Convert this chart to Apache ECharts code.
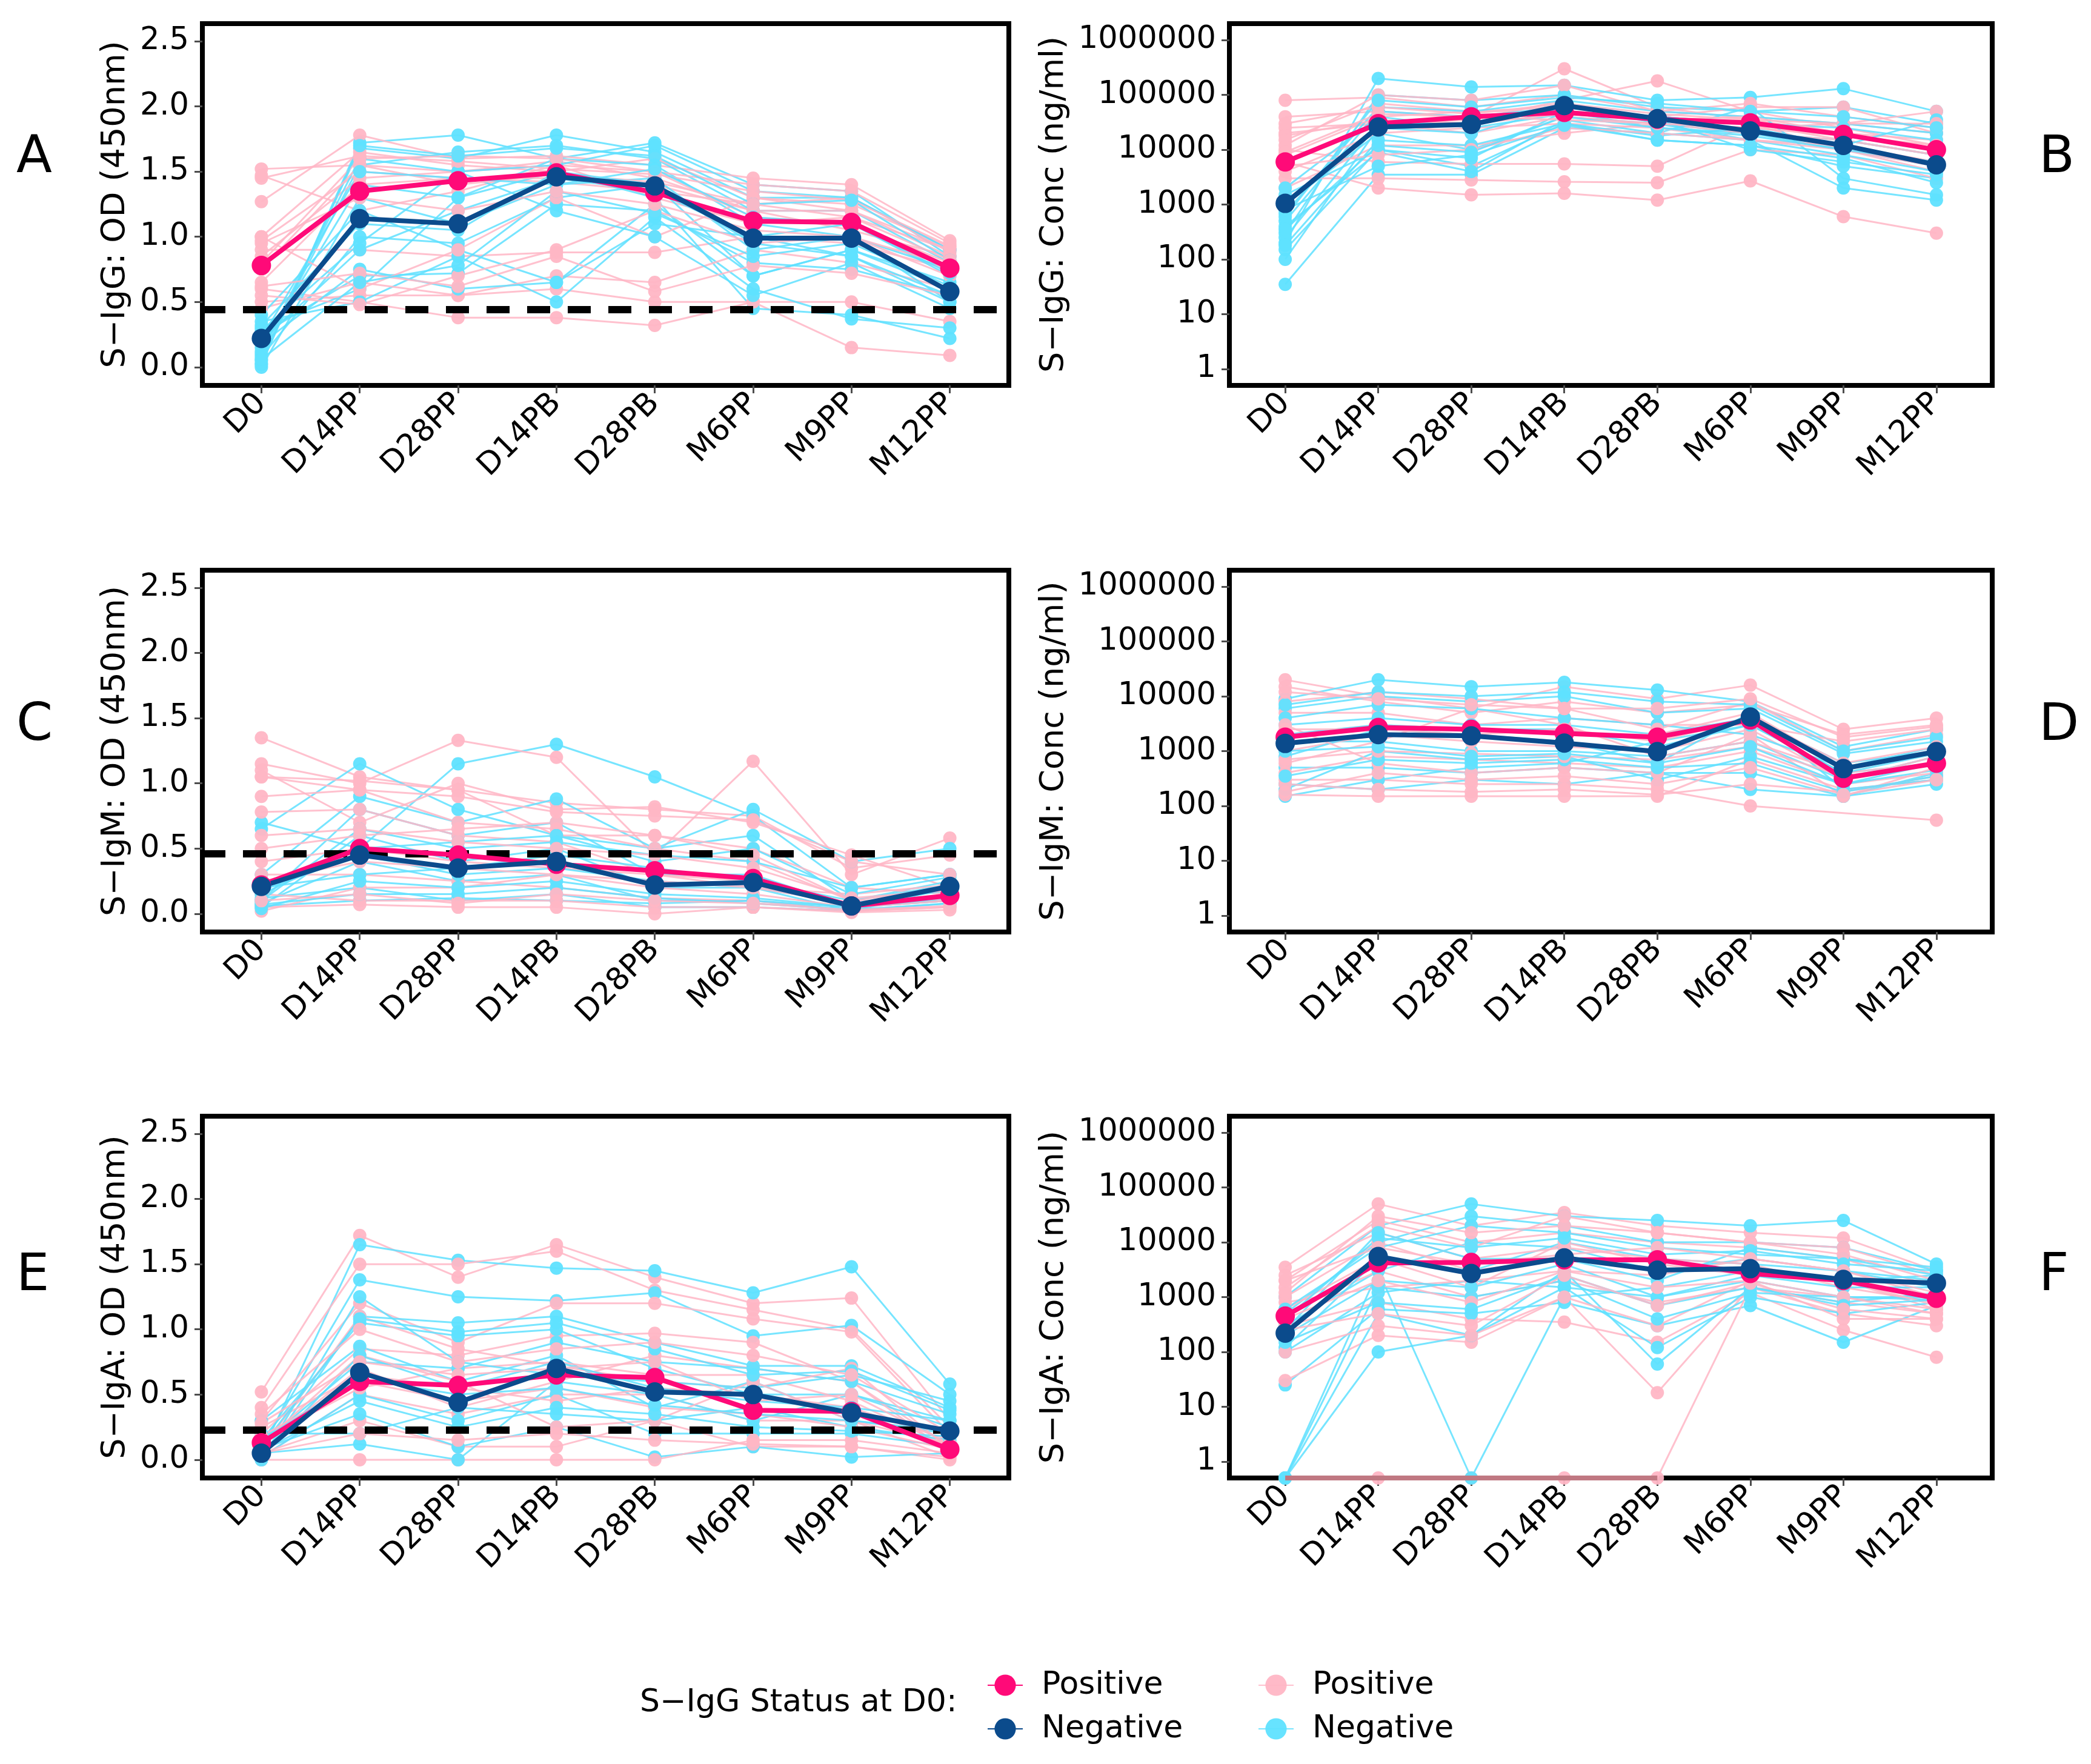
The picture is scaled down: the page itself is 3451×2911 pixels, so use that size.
<!DOCTYPE html>
<html><head><meta charset="utf-8">
<script src="https://cdn.jsdelivr.net/npm/echarts@6/dist/echarts.min.js"></script>
<style>html,body{margin:0;padding:0;background:#fff}#c{width:3451px;height:2911px}</style>
</head><body><div id="c"></div><script>
// ---------- data ----------
const categories = ['D0','D14PP','D28PP','D14PB','D28PB','M6PP','M9PP','M12PP'];
const odTicks = [0, 0.5, 1, 1.5, 2, 2.5];
const concTicks = [1, 10, 100, 1000, 10000, 100000, 1000000];

// Panel A: S-IgG OD
const A_meanPos = [0.78, 1.35, 1.43, 1.49, 1.34, 1.12, 1.11, 0.76];
const A_meanNeg = [0.22, 1.14, 1.10, 1.46, 1.39, 0.99, 0.99, 0.58];
const A_cutoff = 0.44;
const A_pos = [
  [1.52, 1.55, 1.50, 1.58, 1.45, 1.20, 1.05, 0.85],
  [1.47, 1.20, 1.35, 1.55, 1.30, 1.10, 1.15, 0.90],
  [1.27, 1.78, 1.60, 1.62, 1.55, 1.45, 1.40, 0.97],
  [1.00, 1.65, 1.55, 1.50, 1.60, 1.30, 1.25, 0.92],
  [0.97, 1.50, 1.45, 1.42, 1.35, 1.25, 1.30, 0.88],
  [0.90, 0.90, 0.85, 0.88, 0.88, 1.00, 0.95, 0.75],
  [0.85, 1.45, 1.50, 1.55, 1.50, 1.15, 1.10, 0.80],
  [0.60, 0.50, 0.38, 0.38, 0.32, 0.50, 0.15, 0.09],
  [0.50, 0.55, 0.55, 0.60, 0.50, 0.50, 0.50, 0.35],
  [0.45, 0.65, 0.55, 0.70, 0.65, 0.90, 0.80, 0.60],
  [0.80, 1.60, 1.62, 1.60, 1.50, 1.40, 1.35, 0.95],
  [0.65, 1.40, 1.45, 1.45, 1.40, 1.20, 1.20, 0.85],
  [1.00, 0.60, 0.90, 1.30, 1.00, 1.30, 1.20, 0.90],
  [0.55, 0.48, 0.70, 0.90, 1.20, 0.95, 1.00, 0.70],
  [1.45, 1.62, 1.58, 1.52, 1.48, 1.35, 1.28, 0.93],
  [0.75, 1.55, 1.40, 1.48, 1.42, 1.25, 1.15, 0.82],
  [0.62, 0.72, 0.62, 0.85, 0.58, 0.78, 0.72, 0.55],
  [0.95, 1.30, 1.20, 1.35, 1.25, 1.05, 1.00, 0.78]
];
const A_neg = [
  [0.02, 1.72, 1.78, 1.60, 1.72, 1.40, 1.35, 0.85],
  [0.05, 1.68, 1.60, 1.78, 1.65, 1.30, 1.30, 0.90],
  [0.10, 1.55, 1.65, 1.70, 1.60, 1.20, 1.20, 0.80],
  [0.15, 1.40, 1.30, 1.60, 1.55, 1.10, 1.00, 0.75],
  [0.08, 1.00, 0.95, 1.30, 1.40, 0.70, 0.90, 0.60],
  [0.20, 0.90, 1.20, 1.45, 1.35, 1.00, 0.85, 0.50],
  [0.25, 0.70, 0.72, 1.25, 1.20, 0.80, 0.75, 0.55],
  [0.30, 0.60, 1.30, 1.50, 1.30, 0.45, 0.40, 0.22],
  [0.35, 0.50, 0.85, 0.50, 1.15, 0.60, 0.37, 0.30],
  [0.12, 1.60, 1.50, 1.55, 1.70, 1.35, 1.30, 0.90],
  [0.40, 1.20, 0.90, 0.65, 1.10, 1.00, 1.10, 0.70],
  [0.18, 0.75, 0.60, 0.65, 1.25, 0.70, 0.90, 0.65],
  [0.00, 1.30, 1.10, 1.40, 1.45, 0.90, 1.00, 0.50],
  [0.28, 0.95, 1.50, 1.20, 1.00, 0.55, 0.80, 0.45],
  [0.03, 1.70, 1.62, 1.68, 1.62, 1.25, 1.28, 0.82],
  [0.22, 1.50, 1.45, 1.40, 1.52, 1.15, 1.10, 0.72],
  [0.06, 0.65, 0.78, 1.35, 1.18, 0.85, 0.95, 0.62],
  [0.32, 1.10, 1.05, 1.50, 1.40, 0.95, 0.85, 0.55]
];

// Panel B: S-IgG Conc
const B_meanPos = [6000, 30000, 40000, 48000, 36000, 31000, 19000, 10000];
const B_meanNeg = [1050, 26000, 29000, 64000, 37000, 22000, 12000, 5300];
const B_pos = [
  [80000, 90000, 60000, 100000, 50000, 40000, 30000, 20000],
  [40000, 50000, 40000, 300000, 60000, 35000, 20000, 15000],
  [20000, 30000, 35000, 80000, 180000, 50000, 25000, 12000],
  [15000, 70000, 50000, 50000, 40000, 30000, 15000, 8000],
  [10000, 6000, 5500, 5500, 5000, 30000, 10000, 4000],
  [6000, 2000, 1500, 1600, 1200, 2700, 600, 300],
  [3000, 3000, 2800, 2600, 2500, 10000, 8000, 3000],
  [2000, 12000, 12000, 20000, 30000, 20000, 15000, 8000],
  [25000, 30000, 20000, 40000, 30000, 25000, 30000, 50000],
  [8000, 40000, 50000, 60000, 40000, 60000, 60000, 20000],
  [4000, 20000, 25000, 30000, 25000, 15000, 12000, 6000],
  [12000, 100000, 80000, 150000, 50000, 70000, 40000, 25000],
  [30000, 60000, 45000, 70000, 45000, 35000, 30000, 30000],
  [18000, 35000, 30000, 45000, 35000, 40000, 20000, 10000],
  [5000, 8000, 10000, 25000, 20000, 15000, 10000, 5000],
  [9000, 45000, 40000, 35000, 30000, 25000, 18000, 12000]
];
const B_neg = [
  [35, 3500, 3500, 25000, 20000, 15000, 2000, 1200],
  [150, 10000, 5000, 30000, 15000, 12000, 5000, 3000],
  [200, 200000, 140000, 150000, 80000, 90000, 130000, 50000],
  [300, 100000, 80000, 100000, 60000, 50000, 60000, 30000],
  [500, 50000, 40000, 60000, 40000, 30000, 20000, 10000],
  [1000, 20000, 10000, 40000, 30000, 20000, 10000, 5000],
  [1500, 10000, 7000, 50000, 25000, 20000, 15000, 8000],
  [250, 30000, 30000, 70000, 30000, 15000, 8000, 4000],
  [400, 9000, 4000, 35000, 20000, 60000, 3000, 1500],
  [700, 60000, 50000, 80000, 50000, 40000, 30000, 20000],
  [180, 15000, 12000, 30000, 18000, 25000, 12000, 35000],
  [2000, 40000, 25000, 45000, 35000, 10000, 6000, 3500],
  [100, 25000, 20000, 60000, 40000, 30000, 25000, 15000],
  [600, 80000, 60000, 90000, 70000, 50000, 40000, 25000],
  [350, 12000, 9000, 40000, 25000, 18000, 10000, 6000],
  [800, 5000, 8000, 28000, 15000, 12000, 7000, 2500]
];

// Panel C: S-IgM OD
const C_meanPos = [0.22, 0.50, 0.45, 0.38, 0.33, 0.27, 0.06, 0.14];
const C_meanNeg = [0.21, 0.45, 0.35, 0.40, 0.22, 0.24, 0.06, 0.21];
const C_cutoff = 0.46;
const C_pos = [
  [1.35, 1.05, 0.95, 0.85, 0.80, 0.75, 0.35, 0.45],
  [1.15, 1.00, 1.33, 1.20, 0.45, 1.17, 0.30, 0.58],
  [1.10, 0.70, 1.00, 0.80, 0.82, 0.70, 0.45, 0.20],
  [1.05, 1.02, 0.95, 0.60, 0.60, 0.50, 0.20, 0.15],
  [0.90, 0.95, 0.70, 0.65, 0.50, 0.40, 0.10, 0.10],
  [0.78, 0.80, 0.60, 0.55, 0.30, 0.20, 0.15, 0.22],
  [0.40, 0.50, 0.40, 0.35, 0.30, 0.25, 0.05, 0.10],
  [0.30, 0.30, 0.25, 0.20, 0.12, 0.10, 0.02, 0.05],
  [0.15, 0.10, 0.10, 0.10, 0.05, 0.05, 0.02, 0.05],
  [0.05, 0.07, 0.05, 0.05, 0.00, 0.05, 0.01, 0.03],
  [0.02, 0.20, 0.20, 0.30, 0.20, 0.15, 0.05, 0.10],
  [0.50, 0.60, 0.65, 0.70, 0.60, 0.45, 0.10, 0.20],
  [1.05, 0.95, 0.90, 0.78, 0.75, 0.72, 0.40, 0.30],
  [0.60, 0.65, 0.55, 0.50, 0.45, 0.35, 0.12, 0.18],
  [0.25, 0.40, 0.35, 0.30, 0.25, 0.20, 0.08, 0.12],
  [0.10, 0.15, 0.08, 0.15, 0.10, 0.08, 0.03, 0.06]
];
const C_neg = [
  [0.70, 0.50, 1.15, 1.30, 1.05, 0.75, 0.20, 0.30],
  [0.65, 1.15, 0.80, 0.60, 0.50, 0.80, 0.40, 0.50],
  [0.30, 0.90, 0.70, 0.88, 0.50, 0.60, 0.10, 0.25],
  [0.10, 0.80, 0.60, 0.70, 0.30, 0.30, 0.05, 0.10],
  [0.05, 0.60, 0.40, 0.50, 0.20, 0.20, 0.02, 0.20],
  [0.08, 0.40, 0.25, 0.30, 0.10, 0.10, 0.03, 0.15],
  [0.12, 0.20, 0.10, 0.15, 0.05, 0.05, 0.02, 0.08],
  [0.06, 0.10, 0.12, 0.10, 0.08, 0.10, 0.05, 0.10],
  [0.20, 0.30, 0.35, 0.45, 0.35, 0.25, 0.10, 0.22],
  [0.15, 0.50, 0.55, 0.60, 0.40, 0.50, 0.15, 0.28],
  [0.10, 0.65, 0.50, 0.55, 0.45, 0.40, 0.20, 0.30],
  [0.04, 0.25, 0.20, 0.25, 0.15, 0.12, 0.05, 0.12],
  [0.18, 0.45, 0.30, 0.35, 0.25, 0.20, 0.08, 0.18],
  [0.07, 0.15, 0.15, 0.20, 0.12, 0.08, 0.03, 0.08]
];

// Panel D: S-IgM Conc
const D_meanPos = [1800, 2700, 2500, 2100, 1800, 3700, 320, 600];
const D_meanNeg = [1380, 2000, 1900, 1400, 980, 4200, 480, 980];
const D_pos = [
  [20000, 10000, 6000, 15000, 9000, 16000, 2500, 4000],
  [15000, 8000, 5000, 8000, 5000, 7000, 2000, 3000],
  [5000, 5000, 3000, 4000, 3000, 3000, 1500, 2500],
  [2000, 3000, 2500, 2000, 2000, 5000, 500, 1000],
  [1000, 2000, 1500, 1200, 1000, 2500, 300, 800],
  [400, 800, 700, 600, 500, 1000, 250, 400],
  [300, 300, 250, 250, 200, 100, null, 55],
  [160, 150, 150, 150, 150, 700, 200, 300],
  [600, 1500, 6000, 3000, 800, 1500, 400, 600],
  [8000, 12000, 9000, 6000, 2500, 8000, 1000, 2000],
  [3000, 600, 400, 500, 400, 2000, 150, 500],
  [250, 200, 180, 200, 160, 250, 180, 350],
  [12000, 9000, 7000, 6000, 6000, 9000, 1800, 2800],
  [700, 1000, 900, 800, 700, 1200, 350, 600],
  [2500, 2500, 2000, 2500, 1500, 4000, 600, 1200],
  [180, 400, 300, 350, 250, 500, 160, 300]
];
const D_neg = [
  [9000, 20000, 15000, 18000, 13000, 8000, 1200, 2500],
  [6000, 10000, 8000, 10000, 5000, 6000, 900, 1500],
  [3000, 4000, 3000, 3000, 2000, 4000, 600, 1000],
  [1500, 1500, 1000, 1000, 800, 1500, 300, 800],
  [500, 500, 400, 500, 400, 400, 150, 400],
  [250, 200, 300, 250, 400, 200, 150, 250],
  [150, 300, 500, 600, 1500, 3000, 400, 600],
  [800, 2500, 2000, 1500, 600, 5000, 200, 300],
  [4000, 7000, 6000, 4000, 3000, 2000, 500, 1200],
  [200, 1000, 700, 800, 300, 800, 250, 450],
  [7000, 12000, 10000, 12000, 8000, 7000, 1000, 1800],
  [350, 700, 600, 700, 500, 600, 180, 350],
  [2000, 3000, 2500, 2500, 1200, 3000, 400, 900],
  [1000, 1200, 800, 900, 600, 1200, 250, 600]
];

// Panel E: S-IgA OD
const E_meanPos = [0.13, 0.60, 0.57, 0.65, 0.63, 0.38, 0.37, 0.08];
const E_meanNeg = [0.05, 0.67, 0.44, 0.70, 0.52, 0.50, 0.36, 0.22];
const E_cutoff = 0.23;
const E_pos = [
  [0.52, 1.72, 1.40, 1.65, 1.40, 1.20, 1.24, 0.30],
  [0.40, 1.50, 1.50, 1.60, 1.30, 1.15, 1.00, 0.25],
  [0.30, 1.20, 0.90, 1.20, 1.20, 1.08, 0.98, 0.20],
  [0.20, 0.85, 0.80, 0.95, 0.97, 0.90, 0.60, 0.10],
  [0.10, 0.70, 0.40, 0.60, 0.80, 0.70, 0.60, 0.05],
  [0.02, 0.50, 0.35, 0.50, 0.50, 0.30, 0.30, 0.02],
  [0.05, 0.30, 0.10, 0.10, 0.30, 0.10, 0.10, 0.00],
  [0.00, 0.00, 0.00, 0.00, 0.00, 0.15, 0.15, 0.05],
  [0.15, 0.55, 0.70, 0.75, 0.65, 0.65, 0.45, 0.10],
  [0.25, 0.65, 0.55, 0.45, 0.55, 0.50, 0.40, 0.15],
  [0.08, 1.10, 0.85, 0.72, 0.60, 0.55, 0.70, 0.08],
  [0.12, 0.80, 0.60, 0.25, 0.30, 0.60, 0.30, 0.12],
  [0.35, 1.00, 0.75, 0.85, 0.90, 0.80, 0.65, 0.20],
  [0.18, 0.60, 0.45, 0.55, 0.40, 0.35, 0.25, 0.08],
  [0.05, 0.20, 0.15, 0.20, 0.15, 0.12, 0.10, 0.02],
  [0.28, 0.75, 0.65, 0.70, 0.75, 0.45, 0.50, 0.12]
];
const E_neg = [
  [0.05, 1.65, 1.53, 1.47, 1.45, 1.28, 1.48, 0.58],
  [0.10, 1.38, 1.25, 1.22, 1.28, 0.95, 1.03, 0.50],
  [0.00, 1.10, 1.05, 1.10, 0.90, 0.72, 0.72, 0.40],
  [0.15, 1.05, 0.95, 1.00, 0.70, 0.50, 0.50, 0.25],
  [0.30, 0.87, 0.60, 0.80, 0.40, 0.60, 0.30, 0.20],
  [0.02, 0.50, 0.30, 0.50, 0.20, 0.20, 0.20, 0.10],
  [0.08, 0.35, 0.10, 0.25, 0.02, 0.10, 0.02, 0.05],
  [0.05, 0.12, 0.00, 0.60, 0.50, 0.30, 0.50, 0.30],
  [0.12, 0.75, 0.70, 0.90, 0.75, 0.70, 0.60, 0.35],
  [0.20, 0.20, 0.40, 0.35, 0.30, 0.40, 0.25, 0.15],
  [0.00, 1.25, 0.75, 0.65, 0.60, 0.55, 0.65, 0.45],
  [0.10, 1.08, 0.98, 1.05, 0.85, 0.65, 0.68, 0.38],
  [0.03, 0.80, 0.55, 0.75, 0.55, 0.45, 0.40, 0.30],
  [0.07, 0.45, 0.25, 0.40, 0.35, 0.25, 0.22, 0.18],
  [0.15, 0.62, 0.50, 0.55, 0.42, 0.35, 0.30, 0.22]
];

// Panel F: S-IgA Conc (0.5 = undetectable, drawn on the lower panel edge)
const F_meanPos = [450, 4200, 4300, 4800, 4800, 2700, 2000, 950];
const F_meanNeg = [220, 5500, 2700, 5200, 3100, 3300, 2100, 1800];
const F_floor = [0.5, 0.5, 0.5, 0.5, 0.5, null, null, null];
const F_pos = [
  [3500, 50000, 20000, 35000, 20000, 15000, 12000, 3000],
  [2000, 25000, 10000, 15000, 10000, 8000, 5000, 1500],
  [1000, 10000, 3000, 5000, 3000, 3000, 2000, 600],
  [500, 3000, 1000, 2000, 800, 1500, 500, 300],
  [300, 800, 400, 350, 150, 1200, 250, 80],
  [30, 200, 150, 1000, 18, 1500, 800, 500],
  [0.5, 0.5, 0.5, 0.5, 0.5, 1500, 1000, 600],
  [1500, 20000, 8000, 30000, 15000, 10000, 8000, 2500],
  [800, 1500, 2000, 3000, 2500, 5000, 3000, 1000],
  [2500, 15000, 5000, 8000, 5000, 4000, 1500, 800],
  [100, 300, 200, 1000, 300, 2000, 400, 400],
  [600, 5000, 1500, 10000, 4000, 2500, 2000, 700],
  [1200, 30000, 15000, 20000, 15000, 10000, 6000, 2000],
  [400, 2000, 800, 3000, 1500, 2000, 1000, 500],
  [2000, 8000, 4000, 6000, 8000, 5000, 3000, 1200],
  [250, 500, 300, 2500, 700, 1800, 600, 400]
];
const F_neg = [
  [1000, 20000, 50000, 30000, 25000, 20000, 25000, 4000],
  [500, 10000, 30000, 20000, 10000, 10000, 8000, 3000],
  [300, 3000, 10000, 8000, 3000, 5000, 3000, 2000],
  [100, 1200, 2000, 1500, 1000, 2000, 1000, 1000],
  [25, 600, 500, 800, 300, 700, 150, 700],
  [0.5, 500, 200, 1500, 120, 1000, 500, 800],
  [0.5, 100, 200, 3000, 60, 1500, 800, 1200],
  [0.5, 3000, 0.5, 1000, 1500, 3000, 2000, 2500],
  [120, 5000, 3000, 10000, 5000, 4000, 3000, 1500],
  [250, 15000, 5000, 5000, 2000, 8000, 5000, 3500],
  [0.5, 1500, 1000, 2000, 400, 1200, 1000, 900],
  [600, 8000, 20000, 15000, 8000, 6000, 5000, 2500],
  [200, 2000, 1500, 4000, 1000, 2500, 1500, 1500],
  [400, 12000, 8000, 12000, 6000, 7000, 4000, 3000],
  [150, 800, 600, 2500, 700, 1500, 700, 900]
];

// ---------- panel definitions ----------
const panels = [
  {letter:'A', pos:A_pos, neg:A_neg, mp:A_meanPos, mn:A_meanNeg, cutoff:A_cutoff, log:false, title:'S\u2212IgG: OD (450nm)'},
  {letter:'B', pos:B_pos, neg:B_neg, mp:B_meanPos, mn:B_meanNeg, log:true, title:'S\u2212IgG: Conc (ng/ml)'},
  {letter:'C', pos:C_pos, neg:C_neg, mp:C_meanPos, mn:C_meanNeg, cutoff:C_cutoff, log:false, title:'S\u2212IgM: OD (450nm)'},
  {letter:'D', pos:D_pos, neg:D_neg, mp:D_meanPos, mn:D_meanNeg, log:true, title:'S\u2212IgM: Conc (ng/ml)'},
  {letter:'E', pos:E_pos, neg:E_neg, mp:E_meanPos, mn:E_meanNeg, cutoff:E_cutoff, log:false, title:'S\u2212IgA: OD (450nm)'},
  {letter:'F', pos:F_pos, neg:F_neg, mp:F_meanPos, mn:F_meanNeg, floor:F_floor, log:true, title:'S\u2212IgA: Conc (ng/ml)'}
];
const layout = [
  {left:334,  top:39,   width:1331, height:597, lx:57,   ly:263},
  {left:2029, top:39,   width:1259, height:597, lx:3395, ly:263},
  {left:334,  top:941,  width:1331, height:597, lx:57,   ly:1200},
  {left:2029, top:941,  width:1259, height:597, lx:3395, ly:1200},
  {left:334,  top:1842, width:1331, height:597, lx:57,   ly:2108},
  {left:2029, top:1842, width:1259, height:597, lx:3395, ly:2108}
];

const FONT = 'DejaVu Sans';
const PINK = '#FF0A78', NAVY = '#0B4B8C', LPINK = '#FFB6C5', LBLUE = '#5FE1FF', MAUVE = '#C07882';
const xIdx = categories.map((c, i) => i);
const toPts = arr => arr.map((v, i) => [i, v]);

const grids = [], xAxes = [], yAxes = [], series = [], graphics = [];
panels.forEach((p, k) => {
  const L = layout[k];
  grids.push({left:L.left, top:L.top, width:L.width, height:L.height, show:true,
    borderColor:'#000', borderWidth:8, backgroundColor:'#fff', containLabel:false});
  xAxes.push({gridIndex:k, type:'value', position:'bottom', min:-0.6, max:7.6,
    axisLine:{show:false, onZero:false}, splitLine:{show:false},
    axisTick:{show:true, customValues:xIdx, length:13, lineStyle:{color:'#4d4d4d', width:3}},
    axisLabel:{customValues:xIdx, formatter:v => categories[Math.round(v)], rotate:45, margin:22,
      fontSize:51, fontFamily:FONT, color:'#000'}});
  const ticks = p.log ? concTicks : odTicks;
  const ya = {gridIndex:k, position:'left', axisLine:{show:false, onZero:false}, splitLine:{show:false},
    axisTick:{show:true, customValues:ticks, length:13, lineStyle:{color:'#4d4d4d', width:3}},
    axisLabel:{customValues:ticks, margin:22, fontSize:51, fontFamily:FONT, color:'#000',
      formatter: v => p.log ? String(Math.round(v)) : Number(v).toFixed(1)},
    name:p.title, nameLocation:'middle', nameRotate:90,
    nameGap: p.log ? 262 : 116,
    nameTextStyle:{fontSize:54, fontFamily:FONT, color:'#000'}};
  if (p.log) { Object.assign(ya, {type:'log', logBase:10, min:0.5, max:2000000}); }
  else { Object.assign(ya, {type:'value', min:-0.14, max:2.635}); }
  yAxes.push(ya);

  const common = {type:'line', xAxisIndex:k, yAxisIndex:k, symbol:'circle', connectNulls:true,
    clip:false, silent:true, animation:false};
  if (p.floor) {
    series.push(Object.assign({}, common, {name:'floor', data:toPts(p.floor), symbol:'none', z:3,
      lineStyle:{width:8, color:MAUVE}}));
  }
  const n = Math.max(p.pos.length, p.neg.length);
  for (let i = 0; i < n; i++) {
    if (p.pos[i]) series.push(Object.assign({}, common, {name:'Positive ', data:toPts(p.pos[i]), symbolSize:22, z:2,
      lineStyle:{width:3, color:LPINK, opacity:0.85}, itemStyle:{color:LPINK, opacity:0.95}}));
    if (p.neg[i]) series.push(Object.assign({}, common, {name:'Negative ', data:toPts(p.neg[i]), symbolSize:22, z:2,
      lineStyle:{width:3, color:LBLUE, opacity:0.85}, itemStyle:{color:LBLUE, opacity:0.95}}));
  }
  series.push(Object.assign({}, common, {name:'Positive', data:toPts(p.mp), symbolSize:32, z:5,
    lineStyle:{width:8, color:PINK}, itemStyle:{color:PINK}}));
  series.push(Object.assign({}, common, {name:'Negative', data:toPts(p.mn), symbolSize:32, z:5,
    lineStyle:{width:8, color:NAVY}, itemStyle:{color:NAVY}}));
  if (p.cutoff !== undefined) {
    series.push(Object.assign({}, common, {name:'cutoff', data:[], z:7,
      markLine:{silent:true, symbol:['none','none'], label:{show:false}, animation:false,
        lineStyle:{color:'#000', width:12, type:[38, 29]}, data:[{yAxis:p.cutoff}]}}));
  }
  graphics.push({type:'text', left:L.lx - 30, top:L.ly - 44,
    style:{text:p.letter, fontSize:86, fontFamily:FONT, fill:'#000'}});
});

graphics.push({type:'text', left:1056, top:2784,
  style:{text:'S\u2212IgG Status at D0:', fontSize:52, fontFamily:FONT, fill:'#000'}});

const legendCommon = {orient:'vertical', itemWidth:58, itemHeight:44, itemGap:20, selectedMode:false,
  textStyle:{fontSize:52, fontFamily:FONT, color:'#000', padding:[0,0,0,26]}};

const chart = echarts.init(document.getElementById('c'), null, {renderer:'canvas'});
chart.setOption({
  animation:false,
  backgroundColor:'#fff',
  grid:grids, xAxis:xAxes, yAxis:yAxes, series:series,
  legend:[
    Object.assign({}, legendCommon, {left:1624, top:2750, data:['Positive','Negative']}),
    Object.assign({}, legendCommon, {left:2071, top:2750, data:['Positive ','Negative ']})
  ],
  graphic:graphics
});
</script></body></html>
